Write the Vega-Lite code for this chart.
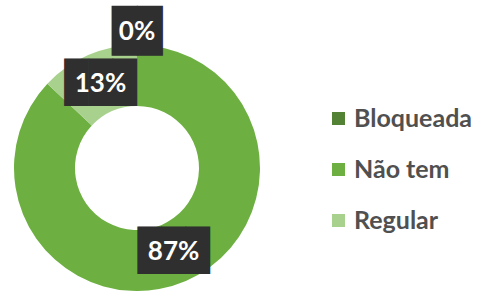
{
  "$schema": "https://vega.github.io/schema/vega-lite/v6.json",
  "width": 274,
  "height": 246,
  "autosize": {"type": "none"},
  "padding": {"left": 0, "top": 45, "right": 203, "bottom": 0},
  "background": "white",
  "config": {"view": {"stroke": null}},
  "data": {
    "values": [
      {"cat": "Bloqueada", "share": 0},
      {"cat": "Não tem", "share": 0.87},
      {"cat": "Regular", "share": 0.13}
    ]
  },
  "encoding": {
    "theta": {"field": "share", "type": "quantitative", "stack": true},
    "order": {"field": "cat", "type": "ordinal", "sort": "ascending"}
  },
  "layer": [
    {
      "mark": {"type": "arc", "innerRadius": 62, "outerRadius": 123},
      "encoding": {
        "color": {
          "field": "cat",
          "type": "nominal",
          "scale": {
            "domain": ["Bloqueada", "Não tem", "Regular"],
            "range": ["#548235", "#6DB041", "#A9D18E"]
          },
          "legend": {
            "title": null,
            "orient": "none",
            "legendX": 326,
            "legendY": 61,
            "padding": 0,
            "symbolType": "square",
            "symbolSize": 169,
            "symbolStrokeWidth": 0,
            "labelFont": "Lato",
            "labelFontSize": 25,
            "labelFontWeight": "bold",
            "labelColor": "#505050",
            "labelOffset": 3,
            "rowPadding": 25
          }
        }
      }
    },
    {
      "transform": [{"filter": "datum.share > 0"}],
      "mark": {"type": "text", "radius": 92, "font": "DejaVu Sans Mono", "fontSize": 40, "color": "#2f2f2f", "text": "███", "baseline": "middle", "align": "center"},
      "encoding": {"detail": {"field": "cat", "type": "nominal"}}
    },
    {
      "transform": [{"filter": "datum.share > 0"}],
      "mark": {"type": "text", "radius": 92, "font": "Lato", "fontWeight": "bold", "fontSize": 26, "color": "white", "baseline": "middle", "align": "center"},
      "encoding": {
        "detail": {"field": "cat", "type": "nominal"},
        "text": {"field": "share", "type": "quantitative", "format": ".0%"}
      }
    },
    {
      "transform": [{"filter": "datum.share == 0"}],
      "mark": {"type": "text", "radius": 136, "font": "DejaVu Sans Mono", "fontSize": 42, "color": "#2f2f2f", "text": "██", "baseline": "middle", "align": "center"},
      "encoding": {"detail": {"field": "cat", "type": "nominal"}}
    },
    {
      "transform": [{"filter": "datum.share == 0"}],
      "mark": {"type": "text", "radius": 136, "font": "Lato", "fontWeight": "bold", "fontSize": 26, "color": "white", "baseline": "middle", "align": "center"},
      "encoding": {
        "detail": {"field": "cat", "type": "nominal"},
        "text": {"field": "share", "type": "quantitative", "format": ".0%"}
      }
    }
  ]
}
